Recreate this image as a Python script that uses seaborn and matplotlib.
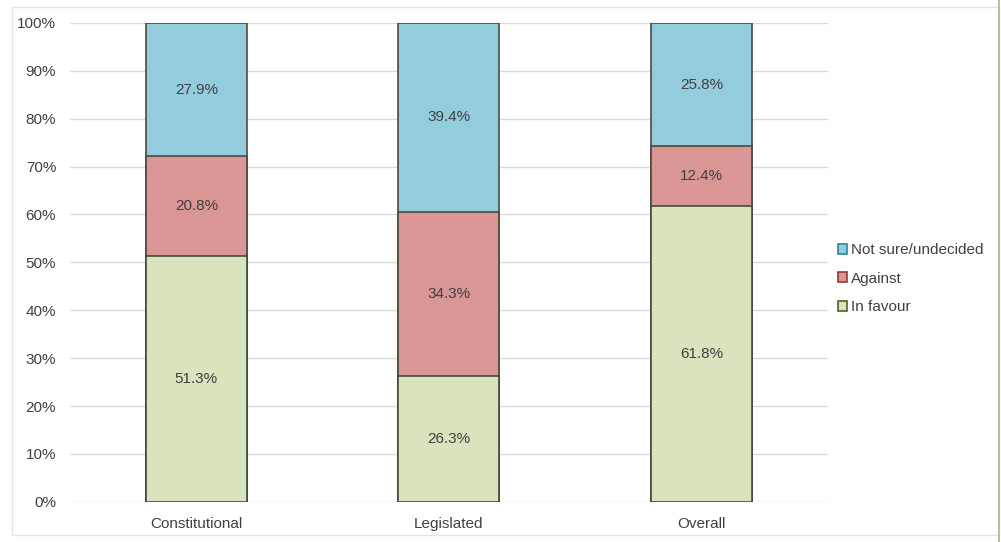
#!/usr/bin/env python3
"""
Stacked 100% bar chart: opinion by group
"""

import pandas as pd
import matplotlib.pyplot as plt
import seaborn as sns
from matplotlib.patches import Patch, Rectangle
from matplotlib.ticker import PercentFormatter

# data
groups = ['Constitutional', 'Legislated', 'Overall']
in_favour = [51.3, 26.3, 61.8]
against = [20.8, 34.3, 12.4]
not_sure = [27.9, 39.4, 25.8]

series_names = ['Not sure/undecided', 'Against', 'In favour']
colors = {'Not sure/undecided': '#93cddd',
          'Against': '#d99694',
          'In favour': '#d7e4bd'}
legend_edges = {'Not sure/undecided': '#31859c',
                'Against': '#953735',
                'In favour': '#4f6228'}

sns.set_theme(style='white')
plt.rcParams['font.family'] = ['Liberation Sans', 'DejaVu Sans']
text_col = '#404040'

df = pd.DataFrame({'group': groups, 'in_favour': in_favour,
                   'against': against, 'not_sure': not_sure})
df['cum_green'] = df['in_favour']
df['cum_red'] = df['in_favour'] + df['against']
df['cum_blue'] = df['cum_red'] + df['not_sure']

fig = plt.figure(figsize=(10.01, 5.42), dpi=100)
ax = fig.add_axes([0.07, 0.074, 0.757, 0.884])

# draw from top down so the lower segments sit on top
for col, name in [('cum_blue', 'Not sure/undecided'),
                  ('cum_red', 'Against'),
                  ('cum_green', 'In favour')]:
    sns.barplot(data=df, x='group', y=col, order=groups, color=colors[name],
                width=0.4, edgecolor='#4a4a40', linewidth=1.2,
                saturation=1, ax=ax, zorder=3)

# segment labels
for i in range(len(groups)):
    segs = [(0, in_favour[i]),
            (in_favour[i], against[i]),
            (in_favour[i] + against[i], not_sure[i])]
    for base, h in segs:
        ax.text(i, base + h / 2, f'{h:.1f}%', ha='center', va='center',
                fontsize=11, color=text_col, zorder=5)

ax.set_xlim(-0.5, 2.5)
ax.set_ylim(0, 100)
ax.set_yticks(range(0, 101, 10))
ax.yaxis.set_major_formatter(PercentFormatter(decimals=0))
ax.grid(True, axis='y', color='#d9d9d9', linewidth=1, zorder=0)
ax.set_axisbelow(True)
for s in ax.spines.values():
    s.set_visible(False)
ax.set_xlabel('')
ax.set_ylabel('')
ax.tick_params(axis='both', length=0, labelsize=11, colors=text_col)
ax.tick_params(axis='y', pad=10)
ax.tick_params(axis='x', pad=11)

# legend
handles = [Patch(facecolor=colors[n], edgecolor=legend_edges[n], linewidth=1.2)
           for n in series_names]
leg = fig.legend(handles, series_names, loc='center left',
                 bbox_to_anchor=(0.823, 0.486), frameon=False,
                 fontsize=11, handlelength=0.6, handleheight=0.6,
                 handletextpad=0.25, labelspacing=0.95)
for t in leg.get_texts():
    t.set_color(text_col)

# faint outer frame like the source
fig.patches.append(Rectangle((0.012, 0.012), 0.986, 0.975,
                             transform=fig.transFigure, fill=False,
                             edgecolor='#e4e4e4', linewidth=1))
fig.patches.append(Rectangle((0.997, 0.0), 0.002, 1.0,
                             transform=fig.transFigure, facecolor='#b5c48e',
                             edgecolor='none'))

fig.savefig('out.png', dpi=100, facecolor='white')
